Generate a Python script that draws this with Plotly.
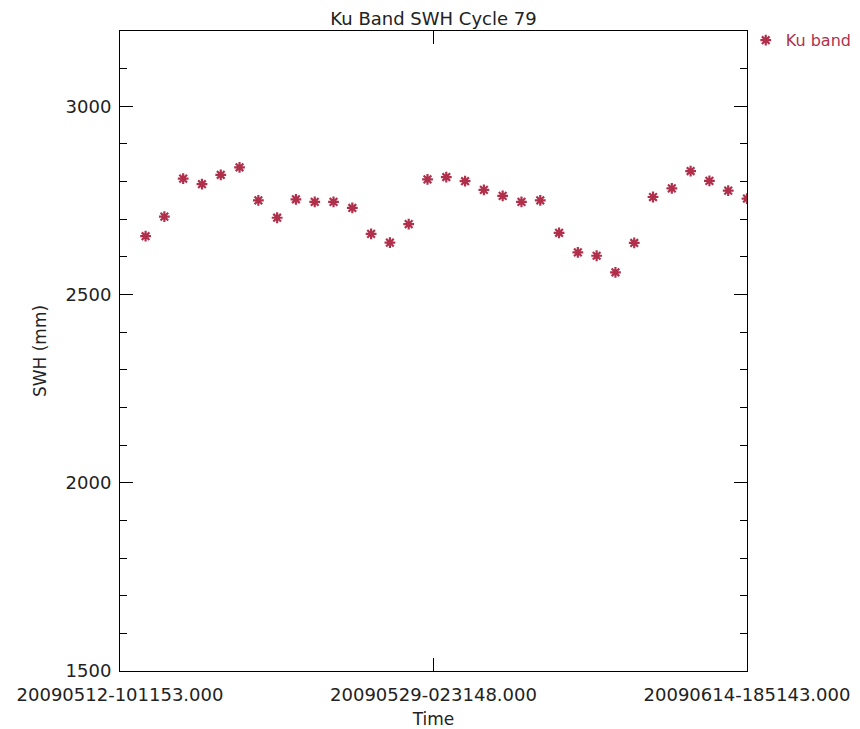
import plotly.graph_objects as go

# ---- data ----
dates = [
    "2009-05-13 18:51:43", "2009-05-14 18:51:43", "2009-05-15 18:51:43", "2009-05-16 18:51:43",
    "2009-05-17 18:51:43", "2009-05-18 18:51:43", "2009-05-19 18:51:43", "2009-05-20 18:51:43",
    "2009-05-21 18:51:43", "2009-05-22 18:51:43", "2009-05-23 18:51:43", "2009-05-24 18:51:43",
    "2009-05-25 18:51:43", "2009-05-26 18:51:43", "2009-05-27 18:51:43", "2009-05-28 18:51:43",
    "2009-05-29 18:51:43", "2009-05-30 18:51:43", "2009-05-31 18:51:43", "2009-06-01 18:51:43",
    "2009-06-02 18:51:43", "2009-06-03 18:51:43", "2009-06-04 18:51:43", "2009-06-05 18:51:43",
    "2009-06-06 18:51:43", "2009-06-07 18:51:43", "2009-06-08 18:51:43", "2009-06-09 18:51:43",
    "2009-06-10 18:51:43", "2009-06-11 18:51:43", "2009-06-12 18:51:43", "2009-06-13 18:51:43",
    "2009-06-14 18:51:43",
]
swh_ku = [
    2655, 2707, 2808, 2793, 2818, 2838, 2750, 2704, 2753, 2746, 2746,
    2730, 2661, 2638, 2687, 2806, 2812, 2801, 2778, 2762, 2746, 2750,
    2664, 2612, 2603, 2559, 2637, 2759, 2782, 2828, 2802, 2776, 2755,
]
x_tick_vals = ["2009-05-12 10:11:53", "2009-05-29 02:31:48", "2009-06-14 18:51:43"]
x_tick_text = ["20090512-101153.000", "20090529-023148.000", "20090614-185143.000"]
series_name = "Ku band"
title_text = "Ku Band SWH Cycle 79"

COLOR = "#B0304C"
FONT = "DejaVu Sans"
TXT = "#222222"

# page body has an 8px margin: shrink the figure so the plot area lands where it should
W, H = 852, 721
L, R, T, B = 112, 113, 23, 58

fig = go.Figure()
fig.add_trace(go.Scatter(
    x=dates, y=swh_ku, mode="markers", name=series_name,
    marker=dict(symbol="asterisk-open", size=9, color=COLOR,
                line=dict(color=COLOR, width=2.2)),
))

fig.update_layout(
    width=W, height=H,
    margin=dict(l=L, r=R, t=T, b=B, autoexpand=False),
    paper_bgcolor="white", plot_bgcolor="white",
    font=dict(family=FONT, size=18, color=TXT),
    title=dict(text=title_text, x=(L + (W - R)) / 2 / W, xanchor="center",
               y=1 - 11 / H, yanchor="middle",
               font=dict(family=FONT, size=18, color=TXT)),
    showlegend=True,
    legend=dict(x=0.998, xanchor="left", y=1.012, yanchor="top",
                bgcolor="rgba(0,0,0,0)", itemwidth=30,
                font=dict(family=FONT, size=16, color=COLOR)),
)

fig.update_xaxes(
    type="date",
    range=[x_tick_vals[0], x_tick_vals[-1]],
    tickmode="array", tickvals=x_tick_vals, ticktext=x_tick_text,
    ticks="inside", ticklen=13, tickcolor="black", tickwidth=1,
    showline=True, linecolor="black", linewidth=1, mirror="ticks",
    showgrid=False, zeroline=False,
    tickfont=dict(family=FONT, size=18, color=TXT),
    ticklabelstandoff=7,
    title=dict(text="Time", standoff=10, font=dict(family=FONT, size=17, color=TXT)),
    automargin=False,
)
fig.update_yaxes(
    range=[1500, 3200],
    tickmode="linear", tick0=1500, dtick=500,
    ticks="inside", ticklen=13, tickcolor="black", tickwidth=1,
    minor=dict(dtick=100, tick0=1500, ticks="inside", ticklen=7, tickcolor="black", showgrid=False),
    showline=True, linecolor="black", linewidth=1, mirror="ticks",
    showgrid=False, zeroline=False,
    tickfont=dict(family=FONT, size=18, color=TXT),
    ticklabelstandoff=4,
    title=dict(text="SWH (mm)", standoff=14, font=dict(family=FONT, size=17, color=TXT)),
    automargin=False,
)

fig.write_html("out.html")
